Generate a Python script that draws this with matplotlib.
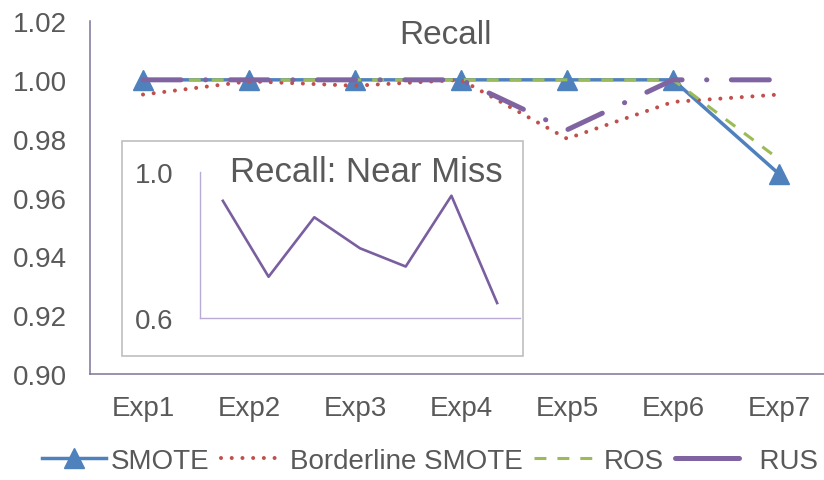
import matplotlib
matplotlib.use("Agg")
import matplotlib.pyplot as plt
from matplotlib.patches import Rectangle
from matplotlib.lines import Line2D

plt.rcParams['font.family'] = ['Liberation Sans', 'DejaVu Sans']

# Experiment labels
experiments = ["Exp1", "Exp2", "Exp3", "Exp4", "Exp5", "Exp6", "Exp7"]

# Recall per resampling method
smote = [1.000, 1.000, 1.000, 1.000, 1.000, 1.000, 0.968]
borderline_smote = [0.995, 0.9995, 0.998, 1.000, 0.980, 0.9925, 0.995]
ros = [1.000, 1.000, 1.000, 1.000, 1.000, 1.000, 0.973]
rus = [1.000, 1.000, 1.000, 1.000, 0.983, 1.000, 1.000]

# Recall for Near Miss (inset)
near_miss = [0.921, 0.713, 0.876, 0.791, 0.741, 0.935, 0.641]

main_yticks = [0.90, 0.92, 0.94, 0.96, 0.98, 1.00, 1.02]
inset_yticks = [0.6, 1.0]

TEXT = "#595959"
W, H = 824, 481

fig = plt.figure(figsize=(W / 100, H / 100), dpi=100)

# Main chart
ax = fig.add_axes([90 / W, 1 - 375 / H, (832 - 90) / W, (375 - 22) / H])
x = list(range(len(experiments)))

l_smote, = ax.plot(x, smote, color="#4F81BD", lw=2.5, marker="^", markersize=15,
                   label="SMOTE", zorder=3)
l_border, = ax.plot(x, borderline_smote, color="#C0504D", lw=2.9,
                    linestyle=(0, (0.01, 2.65)), dash_capstyle="round",
                    label="Borderline SMOTE", zorder=4)
l_ros, = ax.plot(x, ros, color="#9BBB59", lw=2.2, linestyle=(0, (3.9, 3.6)),
                 label="ROS", zorder=5)
ax.plot(x, rus, color="#8064A2", lw=3.6, linestyle=(0, (7.6, 4.9, 0.05, 4.9)),
        dash_capstyle="round", label="RUS", zorder=6)

ax.set_xlim(-0.5, 6.5)
ax.set_ylim(0.90, 1.02)
ax.set_xticks(x)
ax.set_xticklabels(experiments)
ax.set_yticks(main_yticks)
ax.set_yticklabels([f"{v:.2f}" for v in main_yticks])
ax.tick_params(axis="both", length=0, labelsize=20, labelcolor=TEXT)
ax.tick_params(axis="y", pad=16.5)
ax.tick_params(axis="x", pad=15)
for side in ("top", "right"):
    ax.spines[side].set_visible(False)
for side in ("left", "bottom"):
    ax.spines[side].set_color("#7F7496")
    ax.spines[side].set_linewidth(1.1)

fig.text(446 / W, 1 - 35 / H, "Recall", fontsize=24, color=TEXT,
         ha="center", va="center")

# Inset frame
fig.patches.append(Rectangle((122 / W, 1 - 357 / H), (523 - 122) / W, (357 - 142) / H,
                             transform=fig.transFigure, facecolor="white",
                             edgecolor="#BFBFBF", lw=1.2, zorder=10))

# Inset chart
ax2 = fig.add_axes([200 / W, 1 - 319 / H, 320 / W, 146 / H], zorder=11)
ax2.patch.set_alpha(0)
ax2.plot(x, near_miss, color="#7A5FA0", lw=1.9)
ax2.set_xlim(-0.5, 6.5)
ax2.set_ylim(0.6, 1.0)
ax2.set_xticks([])
ax2.set_yticks(inset_yticks)
ax2.set_yticklabels([f"{v:.1f}" for v in inset_yticks])
ax2.tick_params(axis="y", length=0, labelsize=20, labelcolor=TEXT, pad=19)
for side in ("top", "right"):
    ax2.spines[side].set_visible(False)
for side in ("left", "bottom"):
    ax2.spines[side].set_color("#B9ABD6")
    ax2.spines[side].set_linewidth(1.0)

fig.text(366 / W, 1 - 172 / H, "Recall: Near Miss", fontsize=25, color=TEXT,
         ha="center", va="center", zorder=12)

# Legend (RUS shown as a solid swatch)
rus_handle = Line2D([], [], color="#8064A2", lw=3.6, solid_capstyle="round")
handles = [l_smote, l_border, l_ros, rus_handle]
labels = ["SMOTE", "Borderline SMOTE", "ROS", "  RUS"]
fig.legend(handles, labels, loc="center", bbox_to_anchor=(430 / W, 1 - 462 / H),
           ncol=4, frameon=False, fontsize=20, labelcolor=TEXT,
           handlelength=2.3, handletextpad=0.2, columnspacing=0.4,
           borderpad=0, borderaxespad=0)

fig.savefig("out.png", dpi=100)
